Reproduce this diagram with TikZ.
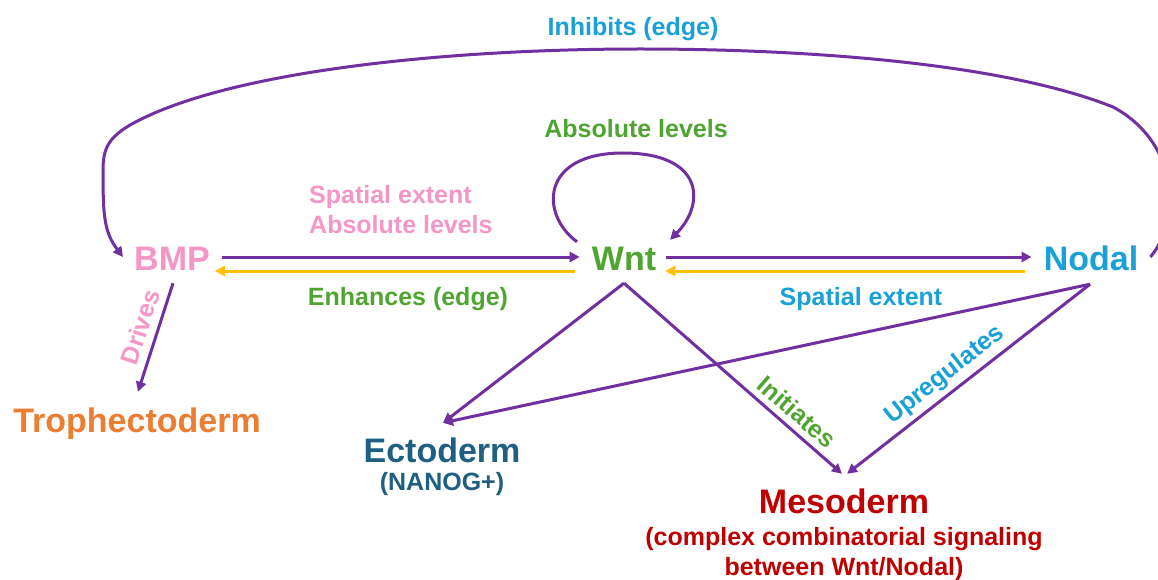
\documentclass[tikz,border=0pt]{standalone}
\usepackage{fontspec}
\setmainfont{Liberation Sans}
\usetikzlibrary{arrows.meta}
\definecolor{purp}{RGB}{112,48,160}
\definecolor{yell}{RGB}{255,192,0}
\definecolor{pinkc}{RGB}{245,150,200}
\definecolor{greenc}{RGB}{80,165,50}
\definecolor{bluec}{RGB}{25,160,215}
\definecolor{orangec}{RGB}{237,125,49}
\definecolor{tealc}{RGB}{30,95,130}
\definecolor{redc}{RGB}{192,0,0}
\tikzset{
  mainlbl/.style={font=\bfseries\fontsize{34}{40}\selectfont, inner sep=0pt, text height=24pt, text depth=0pt, anchor=base},
  sublbl/.style={font=\bfseries\fontsize{25}{30}\selectfont, inner sep=0pt, anchor=base},
  edgelbl/.style={font=\bfseries\fontsize{25}{30}\selectfont, inner sep=0pt},
  purarrow/.style={draw=purp, line width=3pt, -{Triangle[length=10pt,width=10pt]}},
  yelarrow/.style={draw=yell, line width=3pt, -{Triangle[length=10pt,width=10pt]}}
}
\begin{document}
\begin{tikzpicture}[x=1pt,y=-1pt]
\useasboundingbox[fill=white] (0,0) rectangle (1158,580);

% main nodes
\node[mainlbl, text=pinkc] (bmp) at (172,270) {BMP};
\node[mainlbl, text=greenc] (wnt) at (624,270) {Wnt};
\node[mainlbl, text=bluec] (nodal) at (1091,270) {Nodal};
\node[mainlbl, text=orangec] (tropho) at (137,432) {Trophectoderm};
\node[mainlbl, text=tealc] (ecto) at (442,462) {Ectoderm};
\node[sublbl, text=tealc] (ectosub) at (442,490) {(NANOG+)};
\node[mainlbl, text=redc] (meso) at (844,513) {Mesoderm};
\node[sublbl, text=redc] (mesosub1) at (844,545) {(complex combinatorial signaling};
\node[sublbl, text=redc] (mesosub2) at (844,575) {between Wnt/Nodal)};

% edge labels
\node[edgelbl, text=bluec, anchor=base] (lInh) at (633,36) {Inhibits (edge)};
\node[edgelbl, text=greenc, anchor=base] (lAbs) at (636,138) {Absolute levels};
\node[edgelbl, text=pinkc, anchor=base west] (lSp1) at (309,203) {Spatial extent};
\node[edgelbl, text=pinkc, anchor=base west] (lSp2) at (309,233) {Absolute levels};
\node[edgelbl, text=greenc, anchor=base] (lEnh) at (408,305) {Enhances (edge)};
\node[edgelbl, text=bluec, anchor=base] (lSpB) at (861,305) {Spatial extent};
\node[edgelbl, text=pinkc, rotate=72] (lDrv) at (140,327) {Drives};
\node[edgelbl, text=greenc, rotate=-41] (lIni) at (797,412) {Initiates};
\node[edgelbl, text=bluec, rotate=38] (lUpr) at (945,375) {Upregulates};

% horizontal connectors
\draw[purarrow] ([xshift=12pt,yshift=1pt]bmp.east) -- ([xshift=-12pt,yshift=1pt]wnt.west);
\draw[yelarrow] ([xshift=-17pt,yshift=-13pt]wnt.west) -- ([xshift=5pt,yshift=-13pt]bmp.east);
\draw[purarrow] ([xshift=10pt,yshift=1pt]wnt.east) -- ([xshift=-12pt,yshift=1pt]nodal.west);
\draw[yelarrow] ([xshift=-19pt,yshift=-13pt]nodal.west) -- ([xshift=9pt,yshift=-13pt]wnt.east);

% diagonal connectors
\draw[purarrow] ([xshift=1pt,yshift=-13pt]bmp.south) -- ([xshift=1pt,yshift=16pt]tropho.north);
\draw[purarrow] ([yshift=-13pt]wnt.south) -- ([xshift=1pt,yshift=15pt]ecto.north);
\draw[purarrow] ([xshift=-1pt,yshift=-14pt]nodal.south) -- ([xshift=1pt,yshift=15pt]ecto.north);
\draw[purarrow] ([yshift=-13pt]wnt.south) -- ([xshift=-2pt,yshift=15pt]meso.north);
\draw[purarrow] ([xshift=-1pt,yshift=-14pt]nodal.south) -- ([xshift=3pt,yshift=15pt]meso.north);

% Wnt self loop
\draw[purarrow] ([xshift=-47pt,yshift=4pt]wnt.north)
  .. controls +(-37,-27) and +(-83,0) .. (623,153)
  .. controls +(82,0) and +(35,-35) .. ([xshift=46pt,yshift=6pt]wnt.north);

% Inhibits (edge): Nodal -> BMP over the top
\draw[purarrow] ([xshift=12pt,yshift=1pt]nodal.east)
  .. controls (1185,215) and (1175,140) .. (1113,107)
  .. controls (1000,62) and (800,49) .. (640,49)
  .. controls (450,49) and (250,70) .. (150,115)
  .. controls (110,133) and (103,145) .. (103,170)
  .. controls (103,215) and (104,232) .. ([xshift=-11pt,yshift=1pt]bmp.west);
\end{tikzpicture}
\end{document}
